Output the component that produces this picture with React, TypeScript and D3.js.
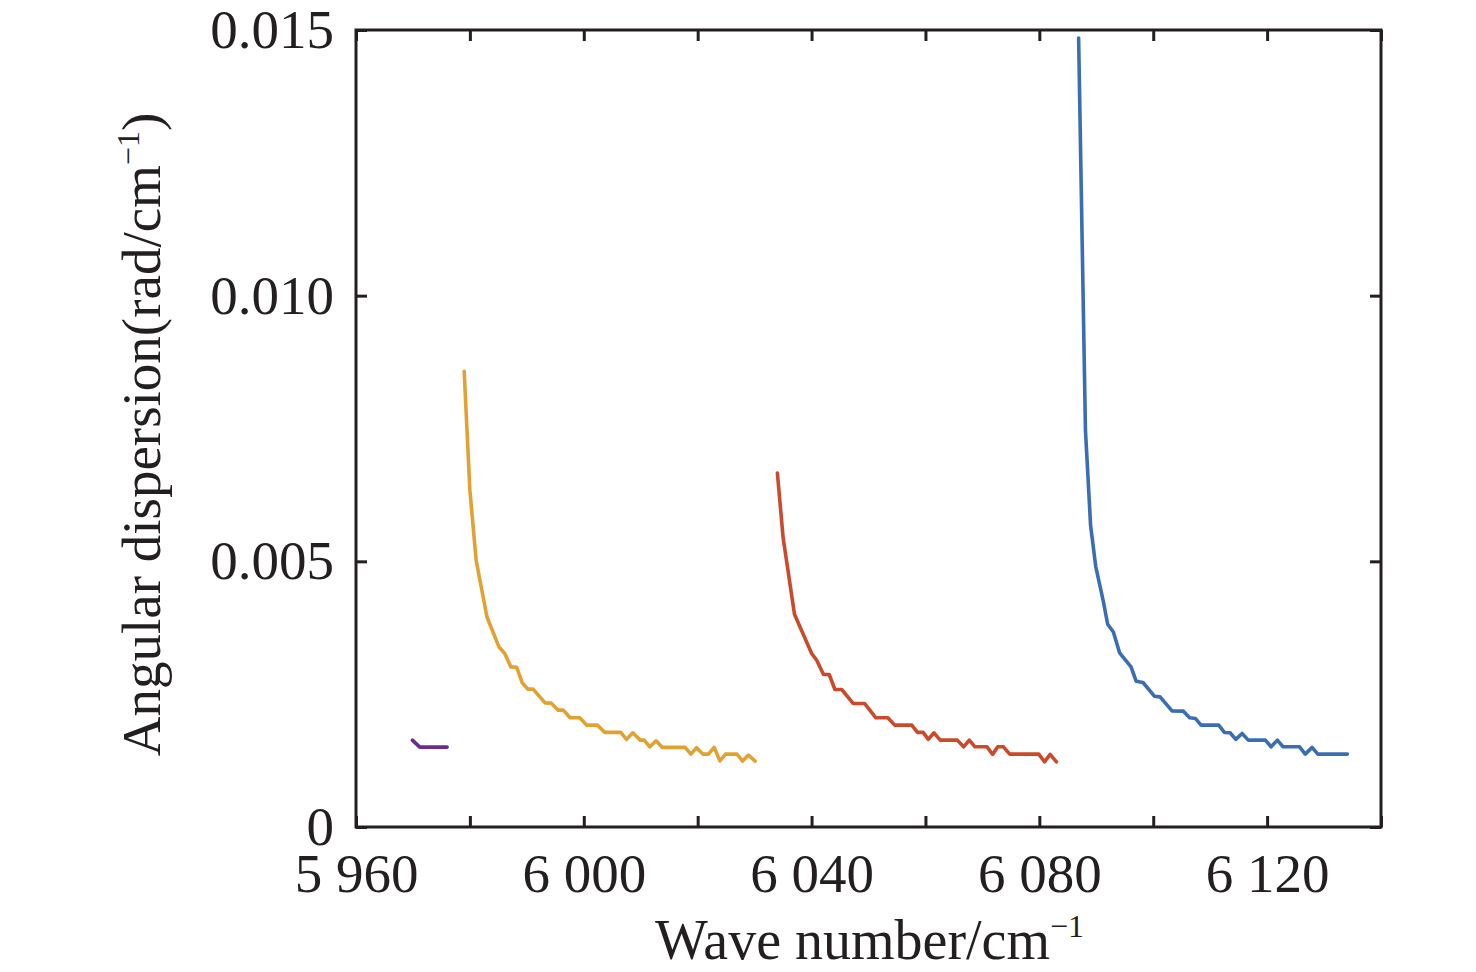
import React, { useEffect, useRef } from "react";
import * as d3 from "d3";

// [wave number (cm^-1), angular dispersion (rad/cm^-1)]
const purpleSeries: [number, number][] = [
  [5969.9, 0.001635],
  [5971.2, 0.001504],
  [5976.0, 0.001504],
];

const yellowSeries: [number, number][] = [
  [5979.0, 0.008577], [5980.0, 0.006335], [5981.1, 0.005019], [5983.0, 0.003953],
  [5985.1, 0.003389], [5986.1, 0.003271], [5987.2, 0.003013], [5988.2, 0.003008],
  [5989.2, 0.002712], [5990.2, 0.002594], [5991.1, 0.002594], [5993.2, 0.002336],
  [5994.3, 0.002331], [5995.5, 0.002199], [5996.4, 0.002199], [5997.6, 0.002055],
  [5999.3, 0.002055], [6000.5, 0.001917], [6002.4, 0.001917], [6003.7, 0.00178],
  [6006.5, 0.00178], [6007.5, 0.001649], [6008.6, 0.001773], [6009.9, 0.001635],
  [6010.6, 0.001635], [6011.6, 0.001509], [6012.7, 0.001622], [6013.8, 0.001498],
  [6017.8, 0.001498], [6018.8, 0.001372], [6019.8, 0.001491], [6020.9, 0.001372],
  [6021.9, 0.001372], [6022.9, 0.001498], [6023.9, 0.001246], [6024.9, 0.001372],
  [6026.9, 0.001372], [6027.9, 0.001241], [6028.9, 0.001353], [6030.1, 0.001241],
];

const redSeries: [number, number][] = [
  [6034.0, 0.00666], [6035.0, 0.005451], [6037.0, 0.004004], [6040.0, 0.003271],
  [6040.9, 0.003139], [6042.1, 0.00287], [6043.1, 0.00287], [6044.1, 0.002588],
  [6045.3, 0.002588], [6047.3, 0.002325], [6049.3, 0.002325], [6051.3, 0.002055],
  [6053.4, 0.002055], [6054.6, 0.001917], [6057.6, 0.001917], [6058.6, 0.00178],
  [6059.6, 0.00178], [6060.5, 0.001649], [6061.5, 0.001773], [6062.6, 0.001635],
  [6065.6, 0.001635], [6066.7, 0.001509], [6067.7, 0.001635], [6068.7, 0.001509],
  [6070.8, 0.001509], [6071.8, 0.001367], [6072.7, 0.001509], [6073.7, 0.001509],
  [6074.8, 0.001372], [6079.9, 0.001372], [6080.9, 0.001227], [6081.9, 0.001367],
  [6083.0, 0.001227],
];

const blueSeries: [number, number][] = [
  [6086.9, 0.01485], [6088.1, 0.007462], [6089.0, 0.005677], [6089.9, 0.004906],
  [6091.2, 0.004267], [6092.0, 0.003816], [6093.0, 0.003671], [6094.1, 0.003276],
  [6096.1, 0.003013], [6097.0, 0.002744], [6098.2, 0.00272], [6100.2, 0.002462],
  [6101.2, 0.002449], [6103.3, 0.002186], [6105.3, 0.00218], [6106.4, 0.002055],
  [6107.4, 0.002043], [6108.4, 0.001917], [6111.5, 0.001917], [6112.5, 0.00178],
  [6113.5, 0.001773], [6114.5, 0.001649], [6115.6, 0.001761], [6116.7, 0.001635],
  [6119.7, 0.001635], [6120.7, 0.001509], [6121.8, 0.001635], [6122.8, 0.001509],
  [6125.7, 0.001509], [6126.7, 0.001372], [6127.9, 0.001498], [6128.9, 0.001372],
  [6134.1, 0.001372],
];

const xTicks = [5960, 5980, 6000, 6020, 6040, 6060, 6080, 6100, 6120, 6140];
const xLabelTicks = [5960, 6000, 6040, 6080, 6120];
const yTicks = [0, 0.005, 0.01, 0.015];

const series = [
  { name: "purple", data: purpleSeries, color: "#6a2c8c" },
  { name: "yellow", data: yellowSeries, color: "#e1a232" },
  { name: "red", data: redSeries, color: "#cb4a2b" },
  { name: "blue", data: blueSeries, color: "#3b6db4" },
];

const FONT = "'Liberation Serif', 'Times New Roman', serif";

const App: React.FC = () => {
  const svgRef = useRef<SVGSVGElement | null>(null);

  useEffect(() => {
    if (!svgRef.current) return;
    const svg = d3.select(svgRef.current);
    svg.selectAll("*").remove();

    const margin = { top: 30, right: 95, bottom: 145, left: 356 };
    const width = 1476 - margin.left - margin.right;
    const height = 972 - margin.top - margin.bottom;

    const x = d3.scaleLinear().domain([5960, 6140]).range([0, width]);
    const y = d3.scaleLinear().domain([0, 0.015]).range([height, 0]);

    const g = svg
      .append("g")
      .attr("transform", `translate(${margin.left},${margin.top})`);

    const fmtX = (v: number) =>
      `${Math.floor(v / 1000)} ${String(v % 1000).padStart(3, "0")}`;
    const fmtY = (v: number) => (v === 0 ? "0" : d3.format(".3f")(v));

    // inward ticks on all four sides
    const tickLen = 11;
    const bottom = g
      .append("g")
      .attr("transform", `translate(0,${height})`)
      .call(
        d3
          .axisBottom(x)
          .tickValues(xTicks)
          .tickSize(-tickLen)
          .tickSizeOuter(0)
          .tickPadding(26)
          .tickFormat((d) =>
            xLabelTicks.includes(d as number) ? fmtX(d as number) : ""
          )
      );
    const top = g
      .append("g")
      .call(
        d3.axisTop(x).tickValues(xTicks).tickSize(-tickLen).tickSizeOuter(0).tickFormat(() => "")
      );
    const left = g
      .append("g")
      .call(
        d3
          .axisLeft(y)
          .tickValues(yTicks)
          .tickSize(-tickLen)
          .tickSizeOuter(0)
          .tickPadding(22)
          .tickFormat((d) => fmtY(d as number))
      );
    const right = g
      .append("g")
      .attr("transform", `translate(${width},0)`)
      .call(
        d3.axisRight(y).tickValues(yTicks).tickSize(-tickLen).tickSizeOuter(0).tickFormat(() => "")
      );

    [bottom, top, left, right].forEach((ax) => {
      ax.select(".domain").remove();
      ax.selectAll("line").attr("stroke", "#231f20").attr("stroke-width", 3);
      ax.selectAll("text")
        .attr("fill", "#231f20")
        .style("font-family", FONT)
        .style("font-size", "55px");
    });

    // frame
    g.append("rect")
      .attr("width", width)
      .attr("height", height)
      .attr("fill", "none")
      .attr("stroke", "#231f20")
      .attr("stroke-width", 3);

    const line = d3
      .line<[number, number]>()
      .x((d) => x(d[0]))
      .y((d) => y(d[1]));

    g.selectAll(".series")
      .data(series)
      .enter()
      .append("path")
      .attr("class", "series")
      .attr("d", (d) => line(d.data))
      .attr("fill", "none")
      .attr("stroke", (d) => d.color)
      .attr("stroke-width", 3.6)
      .attr("stroke-linejoin", "round")
      .attr("stroke-linecap", "round");

    // x axis title
    const xt = svg
      .append("text")
      .attr("x", margin.left + width / 2 + 1)
      .attr("y", 959)
      .attr("text-anchor", "middle")
      .attr("fill", "#231f20")
      .style("font-family", FONT)
      .style("font-size", "56px");
    xt.append("tspan").text("Wave number/cm");
    xt.append("tspan").attr("dy", -22).style("font-size", "32px").text("\u22121");

    // y axis title
    const yt = svg
      .append("text")
      .attr("transform", `translate(160,${margin.top + height / 2 + 6}) rotate(-90)`)
      .attr("text-anchor", "middle")
      .attr("fill", "#231f20")
      .style("font-family", FONT)
      .style("font-size", "55px");
    yt.append("tspan").text("Angular dispersion(rad/cm");
    yt.append("tspan").attr("dy", -21).style("font-size", "32px").text("\u22121");
    yt.append("tspan").attr("dy", 21).text(")");
  }, []);

  return (
    <svg
      ref={svgRef}
      width={1476}
      height={972}
      style={{ position: "absolute", left: 0, top: 0, background: "#fff" }}
    ></svg>
  );
};

export default App;
